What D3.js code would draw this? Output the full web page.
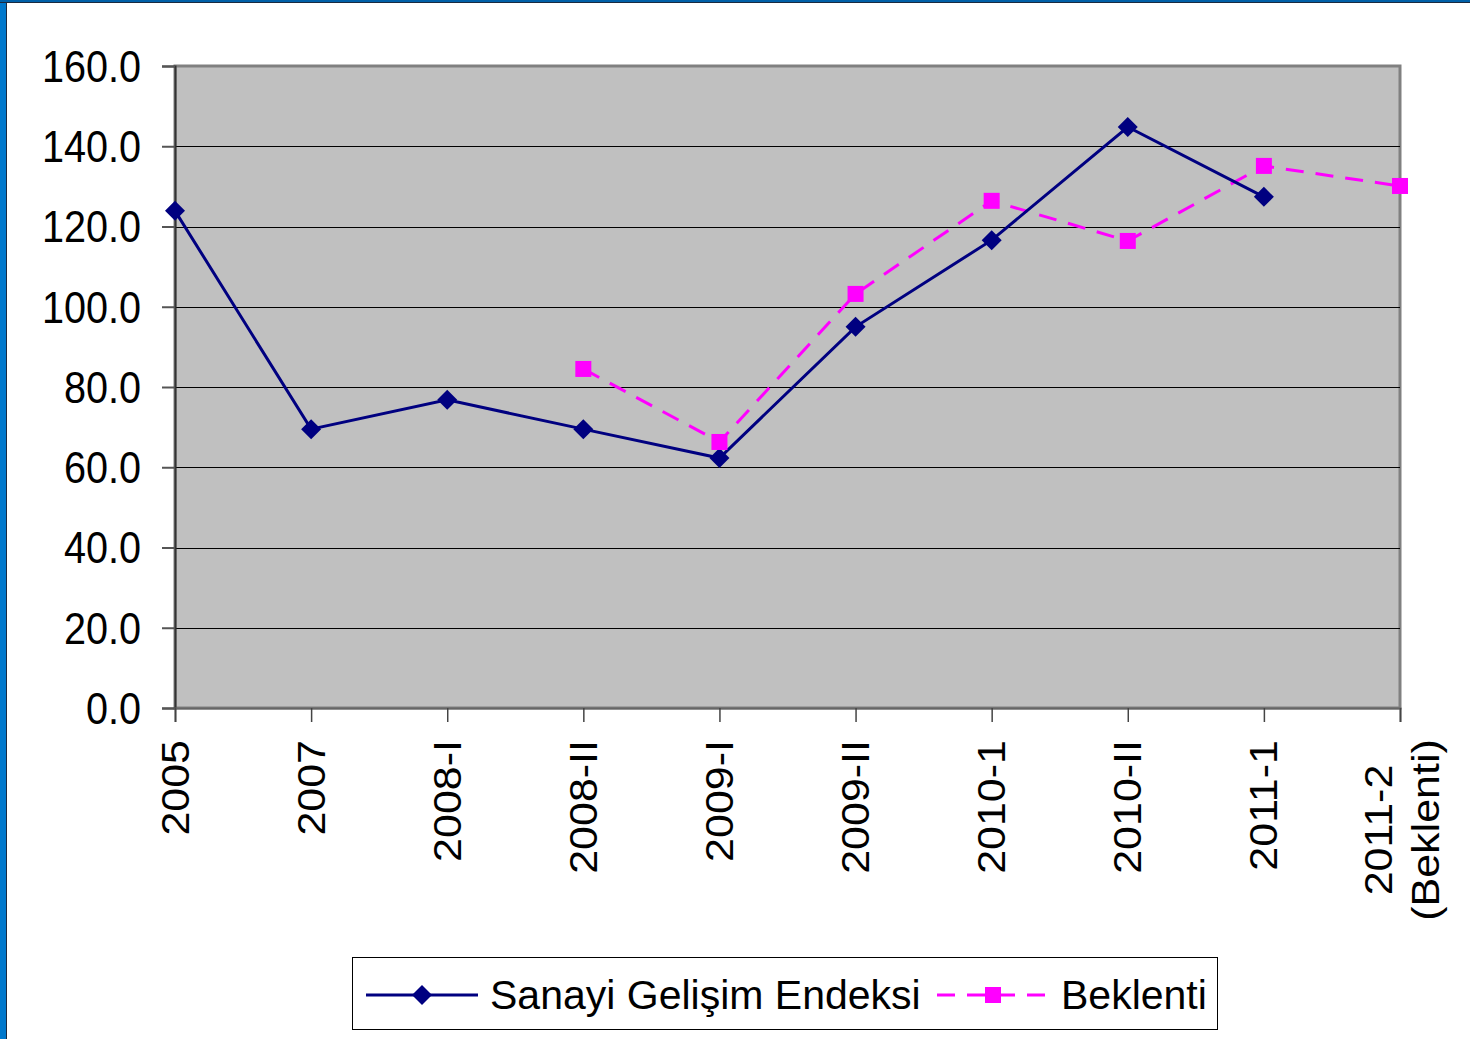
<!DOCTYPE html>
<html>
<head>
<meta charset="utf-8">
<script src="https://cdn.jsdelivr.net/npm/d3@7"></script>
<style>
body { margin: 0; background: #fff; }
svg { display: block; }
</style>
</head>
<body>
<svg width="1470" height="1039"></svg>
<script>
var categories = ["2005", "2007", "2008-I", "2008-II", "2009-I", "2009-II", "2010-1", "2010-II", "2011-1", "2011-2|(Beklenti)"];
var sanayi = [123.9, 69.5, 76.8, 69.5, 62.3, 95.0, 116.6, 144.8, 127.4, null];
var beklenti = [null, null, null, 84.5, 66.3, 103.2, 126.4, 116.4, 135.1, 130.1];
var yTicks = [0, 20, 40, 60, 80, 100, 120, 140, 160];

var svg = d3.select("svg"),
  plotL = 175, plotR = 1400, plotT = 66, plotB = 708,
  font = "Liberation Sans, Arial, sans-serif";

// blue frame of the slide
svg.append("rect").attr("x", 0).attr("y", 0).attr("width", 6).attr("height", 1039).attr("fill", "#0078cc");
svg.append("rect").attr("x", 6).attr("y", 0).attr("width", 1).attr("height", 1039).attr("fill", "#1a2a40");
svg.append("rect").attr("x", 0).attr("y", 0).attr("width", 1470).attr("height", 2).attr("fill", "#0060a8");
svg.append("rect").attr("x", 0).attr("y", 2).attr("width", 1470).attr("height", 1).attr("fill", "#1a2a40");

var x = d3.scalePoint().domain(categories).range([plotL, plotR]);
var y = d3.scaleLinear().domain([0, 160]).range([plotB, plotT]);

svg.append("rect")
  .attr("x", plotL).attr("y", plotT)
  .attr("width", plotR - plotL).attr("height", plotB - plotT)
  .attr("fill", "#c0c0c0")
  .attr("stroke", "#808080").attr("stroke-width", 3);

svg.append("g").selectAll("line")
  .data(yTicks.slice(1, -1))
  .enter().append("line")
  .attr("x1", plotL).attr("x2", plotR)
  .attr("y1", function(d) { return Math.round(y(d)) + 0.5; })
  .attr("y2", function(d) { return Math.round(y(d)) + 0.5; })
  .attr("stroke", "#000").attr("stroke-width", 1);

var yAxis = svg.append("g")
  .attr("transform", "translate(" + plotL + ",0)")
  .call(d3.axisLeft(y).tickValues(yTicks).tickSize(13).tickFormat(""));
yAxis.select(".domain").attr("stroke", "#333").attr("stroke-width", 2);
yAxis.selectAll(".tick line").attr("stroke", "#555").attr("stroke-width", 2);

svg.append("g").selectAll("text")
  .data(yTicks)
  .enter().append("text")
  .attr("transform", function(d) { return "translate(141," + y(d) + ") scale(0.9,1)"; })
  .attr("dy", "0.36em")
  .attr("text-anchor", "end")
  .attr("font-family", font).attr("font-size", 44).attr("fill", "#000")
  .text(d3.format(".1f"));

var xAxis = svg.append("g")
  .attr("transform", "translate(0," + plotB + ")")
  .call(d3.axisBottom(x).tickSize(14).tickFormat(""));
xAxis.select(".domain").attr("stroke", "#666").attr("stroke-width", 2);
xAxis.selectAll(".tick line").attr("stroke", "#444").attr("stroke-width", 1.5);

var labels = svg.append("g").selectAll("text")
  .data(categories)
  .enter().append("text")
  .attr("font-family", font).attr("font-size", 43).attr("fill", "#000");
labels.each(function(d) {
  var parts = d.split("|"), t = d3.select(this);
  if (parts.length === 1) {
    t.attr("transform", "translate(" + x(d) + "," + (plotB + 32) + ") scale(0.9,1) rotate(-90)")
      .attr("text-anchor", "end").attr("dy", "0.35em").text(d);
  } else {
    t.attr("transform", "translate(" + x(d) + "," + (plotB + 122) + ") scale(0.9,1) rotate(-90)")
      .attr("text-anchor", "middle");
    parts.forEach(function(p, i) {
      t.append("tspan").attr("x", 0)
        .attr("dy", i === 0 ? "-0.2em" : "1.2em")
        .text(p);
    });
  }
});

var line = d3.line()
  .defined(function(d) { return d.v !== null; })
  .x(function(d) { return x(d.c); })
  .y(function(d) { return y(d.v); });

function rows(vals) {
  return categories.map(function(c, i) { return { c: c, v: vals[i] }; });
}

svg.append("path").datum(rows(beklenti))
  .attr("d", line).attr("fill", "none")
  .attr("stroke", "#ff00ff").attr("stroke-width", 3).attr("stroke-dasharray", "18,12");

svg.append("path").datum(rows(sanayi))
  .attr("d", line).attr("fill", "none")
  .attr("stroke", "#000080").attr("stroke-width", 3);

svg.append("g").selectAll("path")
  .data(rows(sanayi).filter(function(d) { return d.v !== null; }))
  .enter().append("path")
  .attr("d", d3.symbol().type(d3.symbolSquare).size(200))
  .attr("transform", function(d) { return "translate(" + x(d.c) + "," + y(d.v) + ") rotate(45)"; })
  .attr("fill", "#000080");

svg.append("g").selectAll("rect")
  .data(rows(beklenti).filter(function(d) { return d.v !== null; }))
  .enter().append("rect")
  .attr("x", function(d) { return x(d.c) - 8; })
  .attr("y", function(d) { return y(d.v) - 8; })
  .attr("width", 16).attr("height", 16)
  .attr("fill", "#ff00ff");

// legend
var lg = svg.append("g");
lg.append("rect").attr("x", 352.5).attr("y", 957.5).attr("width", 865).attr("height", 72)
  .attr("fill", "#fff").attr("stroke", "#000").attr("stroke-width", 1);
lg.append("line").attr("x1", 366).attr("x2", 478).attr("y1", 995).attr("y2", 995)
  .attr("stroke", "#000080").attr("stroke-width", 3);
lg.append("path").attr("d", d3.symbol().type(d3.symbolSquare).size(200))
  .attr("transform", "translate(422,995) rotate(45)").attr("fill", "#000080");
lg.append("text").attr("x", 490).attr("y", 1009).text("Sanayi Gelişim Endeksi")
  .attr("font-family", font).attr("font-size", 41).attr("fill", "#000");
lg.append("line").attr("x1", 937).attr("x2", 1049).attr("y1", 995).attr("y2", 995)
  .attr("stroke", "#ff00ff").attr("stroke-width", 3).attr("stroke-dasharray", "18,12");
lg.append("rect").attr("x", 985).attr("y", 987).attr("width", 16).attr("height", 16).attr("fill", "#ff00ff");
lg.append("text").attr("x", 1061).attr("y", 1009).text("Beklenti")
  .attr("font-family", font).attr("font-size", 41).attr("fill", "#000");
</script>
</body>
</html>
